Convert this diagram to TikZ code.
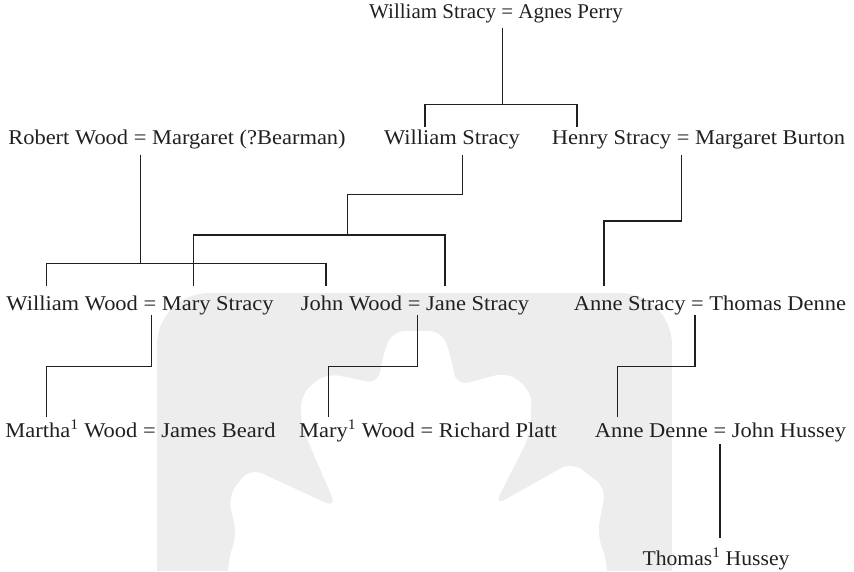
\documentclass[tikz,border=0pt]{standalone}
\usepackage{fontspec}
\setmainfont[FakeStretch=1.07]{Liberation Serif}
\newfontfamily\plainserif{Liberation Serif}
\newfontfamily\midserif[FakeStretch=1.03]{Liberation Serif}
\definecolor{ink}{RGB}{35,31,32}
\definecolor{wmgray}{RGB}{237,237,237}
\newcommand{\famfont}{\fontsize{21}{25}\selectfont}
\tikzset{
  person/.style={anchor=base, inner sep=0pt, font=\famfont, text=ink},
  link/.style={draw=ink, line width=1.25pt, line cap=butt, line join=miter},
}
\begin{document}
\begin{tikzpicture}[x=1pt, y=-1pt]
\useasboundingbox (0,0) rectangle (854,571);
% background watermark
\fill[wmgray] (157,571) -- (157,345) arc[start angle=180, end angle=270, radius=52] -- (620,293) arc[start angle=270, end angle=360, radius=52] -- (672,571) -- cycle;
\begin{scope}
\clip (157,293) rectangle (672,571);
\fill[white, rounded corners=13pt] (392,331) -- (442,331) -- (452,360) -- (456,386)
  -- (508,372) -- (532,392) -- (530,435) -- (494,506)
  -- (572,462) -- (606,488) -- (597,535) -- (607,560) -- (607,590)
  -- (228,590) -- (228,560) -- (237,535) -- (228,496) -- (250,468)
  -- (337,508) -- (301,425) -- (301,394) -- (326,373) -- (379,384) -- (382,358) -- cycle;
\end{scope}
% people
\node[person, font=\famfont\plainserif] (ws1) at (496,18.5) {William Stracy = Agnes Perry};
\node[person] (rw)  at (177,144) {Robert Wood = Margaret (?Bearman)};
\node[person] (ws2) at (452,144) {William Stracy};
\node[person] (hs)  at (698.5,144) {Henry Stracy = Margaret Burton};
\node[person] (ww)  at (140,310) {William Wood = Mary Stracy};
\node[person] (jw)  at (415,310) {John Wood = Jane Stracy};
\node[person] (as)  at (710,310) {Anne Stracy = Thomas Denne};
\node[person] (mw)  at (140.5,437) {Martha\textsuperscript{1} Wood = James Beard};
\node[person] (myw) at (428,437) {Mary\textsuperscript{1} Wood = Richard Platt};
\node[person] (ad)  at (720.5,437) {Anne Denne = John Hussey};
\node[person, font=\famfont\midserif] (th)  at (716,565) {Thomas\textsuperscript{1} Hussey};
% connector points
\coordinate (e1) at (502.5,28);
\coordinate (c1a) at (425,127);
\coordinate (c1b) at (577,127);
\coordinate (e2) at (140.7,154.5);
\coordinate (c2a) at (46.7,286);
\coordinate (c2b) at (326,286);
\coordinate (e3) at (462.7,155);
\coordinate (m3) at (347.7,235);
\coordinate (c3a) at (193.3,286);
\coordinate (c3b) at (445,286);
\coordinate (e4) at (681.7,155);
\coordinate (c4) at (604,286);
\coordinate (e5) at (151.7,315);
\coordinate (c5) at (46.7,417);
\coordinate (e6) at (417.3,315);
\coordinate (c6) at (328.8,417);
\coordinate (e7) at (695,315);
\coordinate (c7) at (617.7,417);
\coordinate (e8) at (720,444);
\coordinate (c8) at (720,538);
% connectors
\draw[link] (e1) -- (502.5,104.5);
\draw[link] (c1a) |- (502.5,104.5) -| (c1b);
\draw[link] (e2) -- (140.7,263.3);
\draw[link] (c2a) |- (140.7,263.3) -| (c2b);
\draw[link] (e3) |- (347.7,194.3) -- (m3);
\draw[link] (c3a) |- (m3) -| (c3b);
\draw[link] (e4) |- (604,221) -- (c4);
\draw[link] (e5) |- (46.7,366.7) -- (c5);
\draw[link] (e6) |- (328.8,366.7) -- (c6);
\draw[link] (e7) |- (617.7,366.7) -- (c7);
\draw[link] (e8) -- (c8);
\end{tikzpicture}
\end{document}
